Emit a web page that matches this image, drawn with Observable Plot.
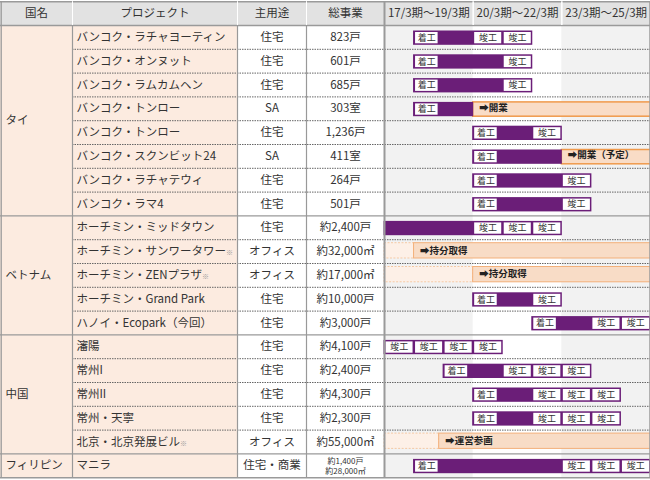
<!DOCTYPE html>
<html><head><meta charset="utf-8">
<script src="https://cdn.jsdelivr.net/npm/d3@7"></script>
<script src="https://cdn.jsdelivr.net/npm/@observablehq/plot@0.6"></script>
<style>body{margin:0;background:#fff}#chart{width:650px;height:480px}</style>
</head><body><div id="chart"></div>
<script>
// ---------- data ----------
const headerLabels = ["国名", "プロジェクト", "主用途", "総事業"];
const periodLabels = ["17/3期～19/3期", "20/3期～22/3期", "23/3期～25/3期"];
const countryNames = ["タイ", "ベトナム", "中国", "フィリピン"];
const countryRowCounts = [8, 5, 5, 1];
const projectNames = [
  "バンコク・ラチャヨーティン", "バンコク・オンヌット", "バンコク・ラムカムヘン", "バンコク・トンロー",
  "バンコク・トンロー", "バンコク・スクンビット24", "バンコク・ラチャテウィ", "バンコク・ラマ4",
  "ホーチミン・ミッドタウン", "ホーチミン・サンワータワー※", "ホーチミン・ZENプラザ※", "ホーチミン・Grand Park",
  "ハノイ・Ecopark（今回）", "瀋陽", "常州I", "常州II", "常州・天寧", "北京・北京発展ビル※", "マニラ"];
const mainUses = ["住宅", "住宅", "住宅", "SA", "住宅", "SA", "住宅", "住宅", "住宅", "オフィス", "オフィス",
  "住宅", "住宅", "住宅", "住宅", "住宅", "住宅", "オフィス", "住宅・商業"];
const totals = ["823戸", "601戸", "685戸", "303室", "1,236戸", "411室", "264戸", "501戸", "約2,400戸",
  "約32,000㎡", "約17,000㎡", "約10,000戸", "約3,000戸", "約4,100戸", "約2,400戸", "約4,300戸", "約2,300戸",
  "約55,000㎡", "約1,400戸\n約28,000㎡"];
// timeline: year index 0 = 17/3期 ... 8 = 25/3期
const kickoffYear = [1, 1, 1, 1, 3, 3, 3, 3, null, null, null, 3, 5, null, 2, 3, 3, null, 1];
const buildFrom   = [2, 2, 2, 2, 4, 4, 4, 4, 0, null, null, 4, 6, null, 3, 4, 4, null, 2];
const buildTo     = [3, 4, 4, 3, 5, 6, 6, 6, 3, null, null, 5, 7, null, 4, 5, 5, null, 6];
const completionYears = [[3, 4], [4], [4], [], [5], [], [6], [6], [3, 4, 5], [], [], [5], [7, 8],
  [0, 1, 2, 3], [4, 5, 6], [5, 6, 7], [5, 6, 7], [], [6, 7, 8]];
const afterFrom  = [null, null, null, 3, null, 6, null, null, null, 1, 3, null, null, null, null, null, null, 1.85, null];
const afterLabel = [null, null, null, "➡開業", null, "➡開業（予定）", null, null, null, "➡持分取得", "➡持分取得",
  null, null, null, null, null, null, "➡運営参画", null];
const afterHasPrior = [false, false, false, false, false, false, false, false, false, true, true,
  false, false, false, false, false, false, true, false];
const kickoffText = "着工";
const completionText = "竣工";

// ---------- layout ----------
const W = 650, H = 480;
const TL0 = 384, YEARS = 9;
const colEdges = [0, 72, 237, 306, 384];
const px = p => (p - TL0) * YEARS / (W - TL0);
const NROWS = projectNames.length;
const purple = "#6b1e78", textCol = "#333";

// ---------- derived tables ----------
const rows = projectNames.map((name, i) => ({i, name, use: mainUses[i], total: totals[i]}));
let acc = 0;
const groups = countryNames.map((name, k) => {
  const g = {name, start: acc, end: acc + countryRowCounts[k]};
  acc += countryRowCounts[k];
  return g;
});
const bars = [], kicks = [], dones = [], afters = [], priors = [];
rows.forEach(({i}) => {
  const xs = [];
  if (kickoffYear[i] != null) { xs.push(kickoffYear[i]); kicks.push({row: i, x: kickoffYear[i]}); }
  if (buildFrom[i] != null) xs.push(buildFrom[i], buildTo[i]);
  completionYears[i].forEach(c => { xs.push(c, c + 1); dones.push({row: i, x: c}); });
  if (xs.length) bars.push({row: i, x1: Math.min(...xs), x2: Math.max(...xs)});
  if (afterFrom[i] != null) {
    afters.push({row: i, x: afterFrom[i], label: afterLabel[i], prior: afterHasPrior[i]});
    if (afterHasPrior[i]) priors.push({row: i, x: afterFrom[i]});
  }
});
const innerLines = d3.range(1, NROWS).filter(r => !groups.some(g => g.start === r));
const groupLines = groups.map(g => g.start).filter(r => r > 0);
const colCenters = headerLabels.map((_, k) => px((colEdges[k] + colEdges[k + 1]) / 2));

const chart = Plot.plot({
  width: W, height: H, margin: 0,
  x: {domain: [px(0), YEARS], range: [0, W], axis: null},
  y: {domain: [-1, NROWS], range: [1.2, 477.2], axis: null},
  style: {fontFamily: "'Noto Sans CJK JP','Noto Sans',sans-serif", fontSize: "11.5px", color: textCol, background: "#fff"},
  marks: [
    // header background
    Plot.rect([0], {x1: px(0), x2: YEARS, y1: -1, y2: 0, fill: "#e2e2e2"}),
    // peach columns
    Plot.rect([0], {x1: px(colEdges[0]), x2: px(colEdges[2]), y1: 0, y2: NROWS, fill: "#fcebe0"}),
    // period backgrounds
    Plot.rect(periodLabels.map((l, k) => k).filter(k => k !== 1), {x1: k => 3 * k, x2: k => 3 * k + 3, y1: 0, y2: NROWS, fill: "#f2f2f2"}),
    // prior (light) regions
    Plot.rect(priors, {x1: 0, x2: d => d.x, y1: d => d.row, y2: d => d.row + 1, insetTop: 3.5, insetBottom: 5,
      fill: "#fdf0e7", stroke: "#f5c9a4", strokeDasharray: "2,1.5", strokeWidth: 1}),
    // after regions (orange)
    Plot.rect(afters.filter(d => !d.prior), {x1: d => d.x, x2: YEARS + 0.05, y1: d => d.row, y2: d => d.row + 1,
      insetTop: 5.5, insetBottom: 4, fill: "#f9dcc6", stroke: "#f09a4c", strokeWidth: 1.5}),
    Plot.rect(afters.filter(d => d.prior), {x1: d => d.x, x2: YEARS + 0.05, y1: d => d.row, y2: d => d.row + 1,
      insetTop: 3.5, insetBottom: 5, fill: "#f8dcc6", stroke: "#f3b07a", strokeWidth: 1}),
    Plot.text(afters, {x: d => d.x, y: d => d.row + 0.5, dy: -1, dx: 6, text: "label", textAnchor: "start",
      fontSize: 9.5, fontWeight: "bold", fill: "#222"}),
    // purple bars
    Plot.rect(bars, {x1: "x1", x2: "x2", y1: d => d.row, y2: d => d.row + 1, insetTop: 5.5, insetBottom: 4,
      insetLeft: -0.5, insetRight: -0.5, fill: purple}),
    // white boxes
    Plot.rect(kicks, {x1: "x", x2: d => d.x + 1, y1: d => d.row, y2: d => d.row + 1,
      insetTop: 7, insetBottom: 5.5, insetLeft: 1.5, insetRight: 5.5, fill: "#fff"}),
    Plot.rect(dones, {x1: "x", x2: d => d.x + 1, y1: d => d.row, y2: d => d.row + 1,
      insetTop: 7, insetBottom: 5.5, insetLeft: 1.5, insetRight: 1, fill: "#fff"}),
    Plot.text(kicks, {x: d => d.x + 0.5, dx: -2, y: d => d.row + 0.5, dy: 0.5, text: () => kickoffText, fontSize: 9, fill: textCol}),
    Plot.text(dones, {x: d => d.x + 0.5, y: d => d.row + 0.5, dy: 0.5, text: () => completionText, fontSize: 9, fill: textCol}),
    // horizontal lines
    Plot.ruleY(innerLines, {x1: px(colEdges[1]), x2: YEARS, stroke: "#666", strokeDasharray: "1.5,1", strokeWidth: 1}),
    Plot.ruleY(groupLines, {x1: px(0), x2: YEARS, stroke: "#9a9a9a", strokeWidth: 1.2}),
    Plot.ruleY([0], {x1: px(0), x2: YEARS, stroke: "#9a9a9a", strokeWidth: 1.5}),
    Plot.ruleY([-1, NROWS], {x1: px(0), x2: YEARS, stroke: "#9a9a9a", strokeWidth: 1.5}),
    // vertical lines
    Plot.ruleX(colEdges.slice(1, 4).map(px), {y1: 0, y2: NROWS, stroke: "#999", strokeWidth: 1.2}),
    Plot.ruleX(colEdges.slice(1, 4).map(px), {y1: -1, y2: 0, stroke: "#fff", strokeWidth: 1}),
    Plot.ruleX([3, 6], {y1: -1, y2: 0, stroke: "#fff", strokeWidth: 1.5}),
    Plot.ruleX([0], {y1: -1, y2: NROWS, stroke: "#9a9a9a", strokeWidth: 2}),
    Plot.ruleX([px(0.7), YEARS - 0.02], {y1: -1, y2: NROWS, stroke: "#9a9a9a", strokeWidth: 1.3}),
    // header text
    Plot.text(headerLabels, {x: (d, k) => colCenters[k], y: -0.5, text: d => d, fontSize: 11.5, fill: textCol}),
    Plot.text(periodLabels, {x: (d, k) => 3 * k + 1.5, y: -0.5, text: d => d, fontSize: 11.5, fill: textCol}),
    // body text
    Plot.text(groups, {x: px(5), y: d => (d.start + d.end) / 2, text: "name", textAnchor: "start", fontSize: 11.5, fill: textCol}),
    Plot.text(rows, {x: px(76), y: d => d.i + 0.5, text: "name", textAnchor: "start", fontSize: 11.5, fill: textCol}),
    Plot.text(rows, {x: colCenters[2], y: d => d.i + 0.5, text: "use", fontSize: 11.5, fill: textCol}),
    Plot.text(rows.filter(d => !d.total.includes("\n")), {x: colCenters[3], y: d => d.i + 0.5, text: "total", fontSize: 11.5, fill: textCol}),
    Plot.text(rows.filter(d => d.total.includes("\n")), {x: colCenters[3], y: d => d.i + 0.5, text: "total", fontSize: 8, lineHeight: 1.3, fill: textCol})
  ]
});
// shrink the ※ note marks
chart.querySelectorAll("text").forEach(t => {
  if (t.children.length === 0 && t.textContent.endsWith("※")) {
    const base = t.textContent.slice(0, -1);
    t.textContent = base;
    const ts = document.createElementNS("http://www.w3.org/2000/svg", "tspan");
    ts.setAttribute("font-size", "7");
    ts.setAttribute("fill", "#999");
    ts.textContent = "※";
    t.appendChild(ts);
  }
});
document.getElementById("chart").appendChild(chart);
</script></body></html>
